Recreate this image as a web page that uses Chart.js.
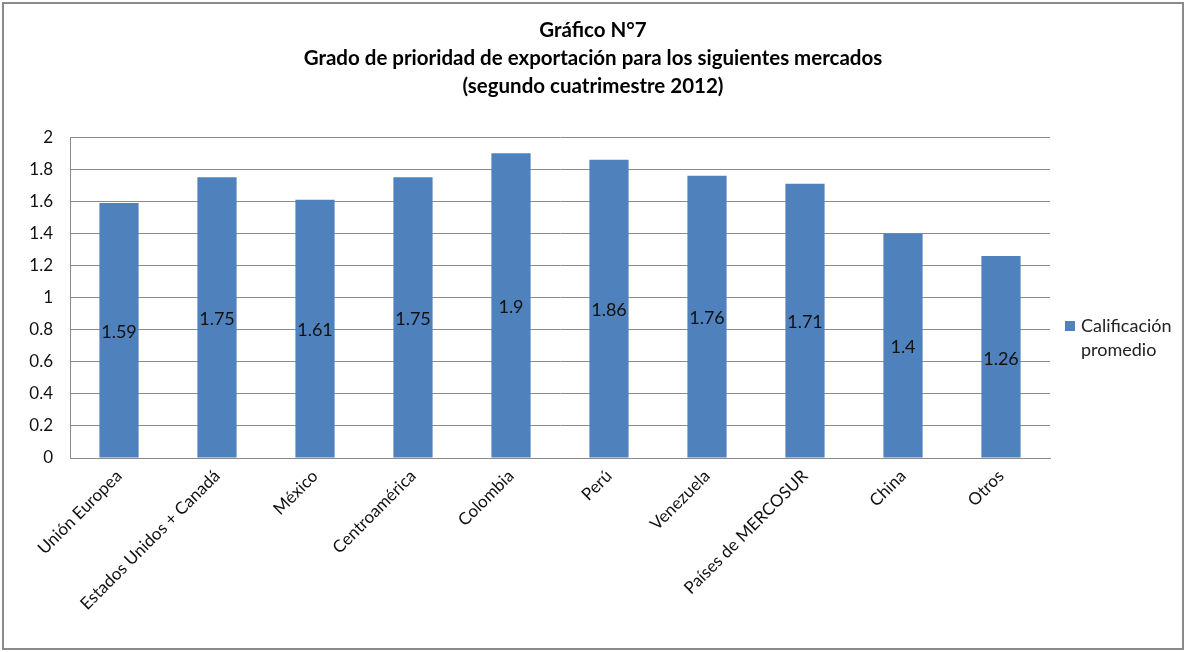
<!DOCTYPE html>
<html>
<head>
<meta charset="utf-8">
<script src="https://cdn.jsdelivr.net/npm/chart.js@4"></script>
<style>
  body { margin: 0; background: #fff; }
  #wrap { position: relative; width: 1186px; height: 652px; }
  #frame { position: absolute; left: 2px; top: 2px; width: 1178px; height: 644px; border: 2px solid #8a8a8a; pointer-events: none; }
  canvas { position: absolute; left: 0; top: 0; }
</style>
</head>
<body>
<div id="wrap">
  <canvas id="chart" width="1186" height="652"></canvas>
  <div id="frame"></div>
</div>
<script>
const markets = ["Unión Europea", "Estados Unidos + Canadá", "México", "Centroamérica", "Colombia", "Perú", "Venezuela", "Países de MERCOSUR", "China", "Otros"];
const scores = [1.59, 1.75, 1.61, 1.75, 1.9, 1.86, 1.76, 1.71, 1.4, 1.26];
const seriesName = ["Calificación", "promedio"];
const titleLines = ["Gráfico N°7", "Grado de prioridad de exportación para los siguientes mercados", "(segundo cuatrimestre 2012)"];

const barColor = "#4F81BD";
const fontFamily = "Lato, 'Open Sans', sans-serif";

// values written in the middle of each bar
const barValues = {
  id: "barValues",
  afterDatasetsDraw(chart) {
    const ctx = chart.ctx;
    const meta = chart.getDatasetMeta(0);
    ctx.save();
    ctx.font = "18px " + fontFamily;
    ctx.fillStyle = "#111";
    ctx.textAlign = "center";
    ctx.textBaseline = "middle";
    meta.data.forEach((bar, i) => {
      ctx.fillText(String(scores[i]), bar.x, (bar.y + bar.base) / 2 + 2);
    });
    ctx.restore();
  },
};

// legend on the right, two lines like the original
const sideLegend = {
  id: "sideLegend",
  afterDraw(chart) {
    const ctx = chart.ctx;
    const x = chart.chartArea.right + 15;
    const y = 326;
    ctx.save();
    ctx.fillStyle = barColor;
    ctx.fillRect(x, y - 5, 10, 10);
    ctx.fillStyle = "#222";
    ctx.font = "18px " + fontFamily;
    ctx.textBaseline = "middle";
    ctx.fillText(seriesName[0], x + 16, y);
    ctx.fillText(seriesName[1], x + 16, y + 24);
    ctx.restore();
  },
};

const chart = new Chart(document.querySelector("#chart"), {
  type: "bar",
  data: {
    labels: markets,
    datasets: [
      {
        label: seriesName.join(" "),
        data: scores,
        backgroundColor: barColor,
        categoryPercentage: 1,
        barPercentage: 0.4,
      },
    ],
  },
  options: {
    responsive: false,
    animation: false,
    layout: { padding: 0 },
    plugins: {
      legend: { display: false },
      tooltip: { enabled: false },
      title: {
        display: true,
        text: titleLines,
        color: "#000",
        font: { family: fontFamily, size: 20.5, weight: "bold", lineHeight: 1.37 },
        padding: { top: 16, bottom: 37 },
      },
    },
    scales: {
      x: {
        grid: { display: false },
        border: { display: true, color: "#8a8a8a" },
        ticks: {
          color: "#111",
          font: { family: fontFamily, size: 17 },
          minRotation: 45,
          maxRotation: 45,
          autoSkip: false,
          padding: 0,
        },
        afterFit(scale) {
          scale.height = 194;
        },
      },
      y: {
        min: 0,
        max: 2,
        ticks: {
          stepSize: 0.2,
          color: "#111",
          font: { family: fontFamily, size: 17 },
          padding: 17,
          callback: (v) => Math.round(v * 10) / 10,
        },
        grid: { color: "#8a8a8a", drawTicks: false },
        border: { display: true, color: "#8a8a8a" },
        afterFit(scale) {
          scale.width = 70;
        },
      },
      // empty axis on the right that only keeps room for the legend
      legendSpace: {
        type: "linear",
        position: "right",
        display: true,
        grid: { display: false, drawTicks: false },
        border: { display: false },
        ticks: { display: false },
        afterFit(scale) {
          scale.width = 136;
        },
      },
    },
  },
  plugins: [barValues, sideLegend],
});
</script>
</body>
</html>
